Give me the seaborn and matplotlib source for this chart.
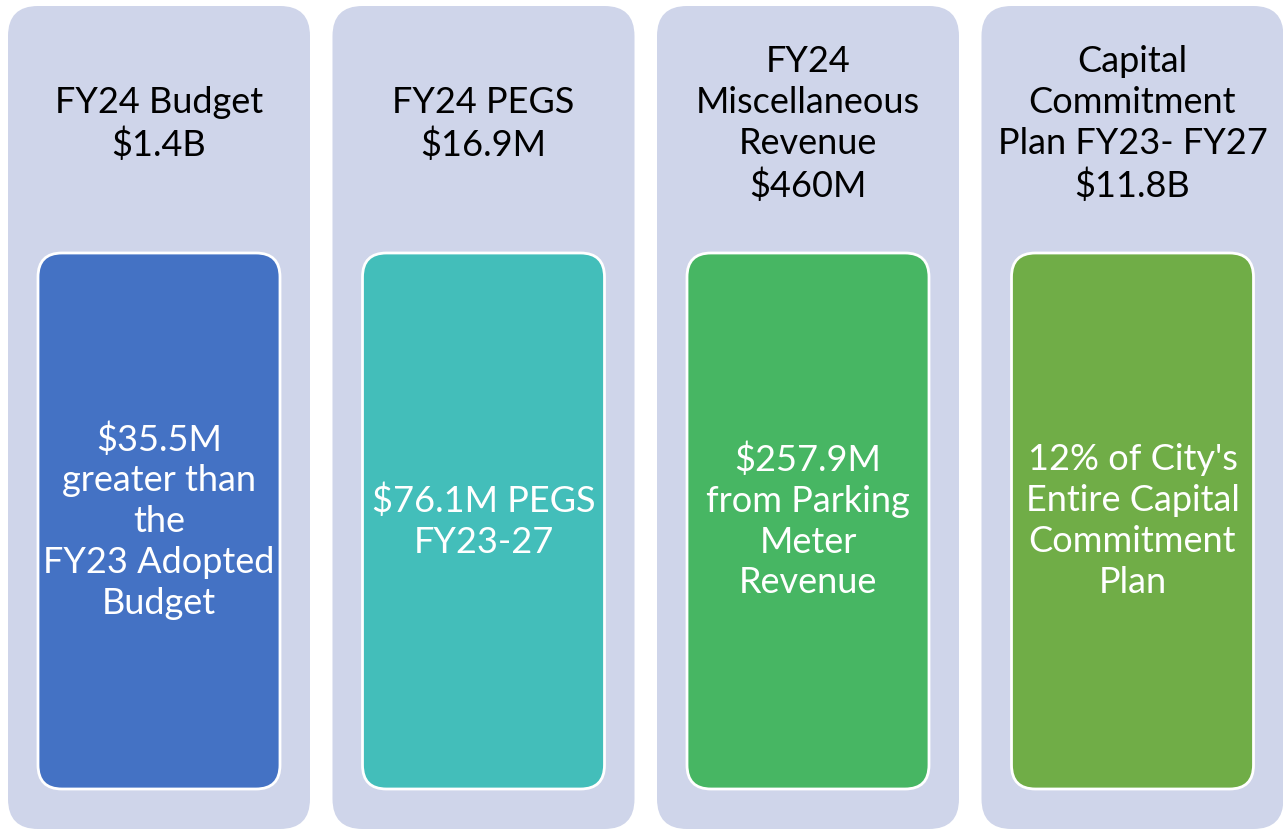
import matplotlib
matplotlib.use("Agg")
import matplotlib.pyplot as plt
from matplotlib.patches import FancyBboxPatch
import seaborn as sns

# panel content
headers = [
    "FY24 Budget\n$1.4B",
    "FY24 PEGS\n$16.9M",
    "FY24\nMiscellaneous\nRevenue\n$460M",
    "Capital\nCommitment\nPlan FY23- FY27\n$11.8B",
]
details = [
    "$35.5M\ngreater than\nthe\nFY23 Adopted\nBudget",
    "$76.1M PEGS\nFY23-27",
    "$257.9M\nfrom Parking\nMeter\nRevenue",
    "12% of City's\nEntire Capital\nCommitment\nPlan",
]
inner_colors = ["#4472C4", "#43BEBA", "#47B663", "#70AD47"]
outer_color = "#CFD5EA"

sns.set_theme(style="white")
plt.rcParams["font.family"] = ["Lato", "DejaVu Sans"]

W, H = 1283, 830
fig = plt.figure(figsize=(W / 100, H / 100), dpi=100)
ax = fig.add_axes([0, 0, 1, 1])
ax.set_xlim(0, W)
ax.set_ylim(H, 0)
ax.axis("off")

pitch = 324.5
for i, (head, det, col) in enumerate(zip(headers, details, inner_colors)):
    x0 = 8 + i * pitch
    outer = FancyBboxPatch((x0, 6), 302, 823, boxstyle="round,pad=0,rounding_size=30",
                           fc=outer_color, ec="none")
    ax.add_patch(outer)
    inner = FancyBboxPatch((x0 + 30, 253), 242, 536, boxstyle="round,pad=0,rounding_size=24",
                           fc=col, ec="white", lw=2)
    ax.add_patch(inner)
    cx = x0 + 151
    ax.text(cx, 124, head, ha="center", va="center", fontsize=26, color="black",
            linespacing=1.29)
    ax.text(cx, 521, det, ha="center", va="center", fontsize=26, color="white",
            linespacing=1.29)

fig.savefig("out.png", dpi=100)
